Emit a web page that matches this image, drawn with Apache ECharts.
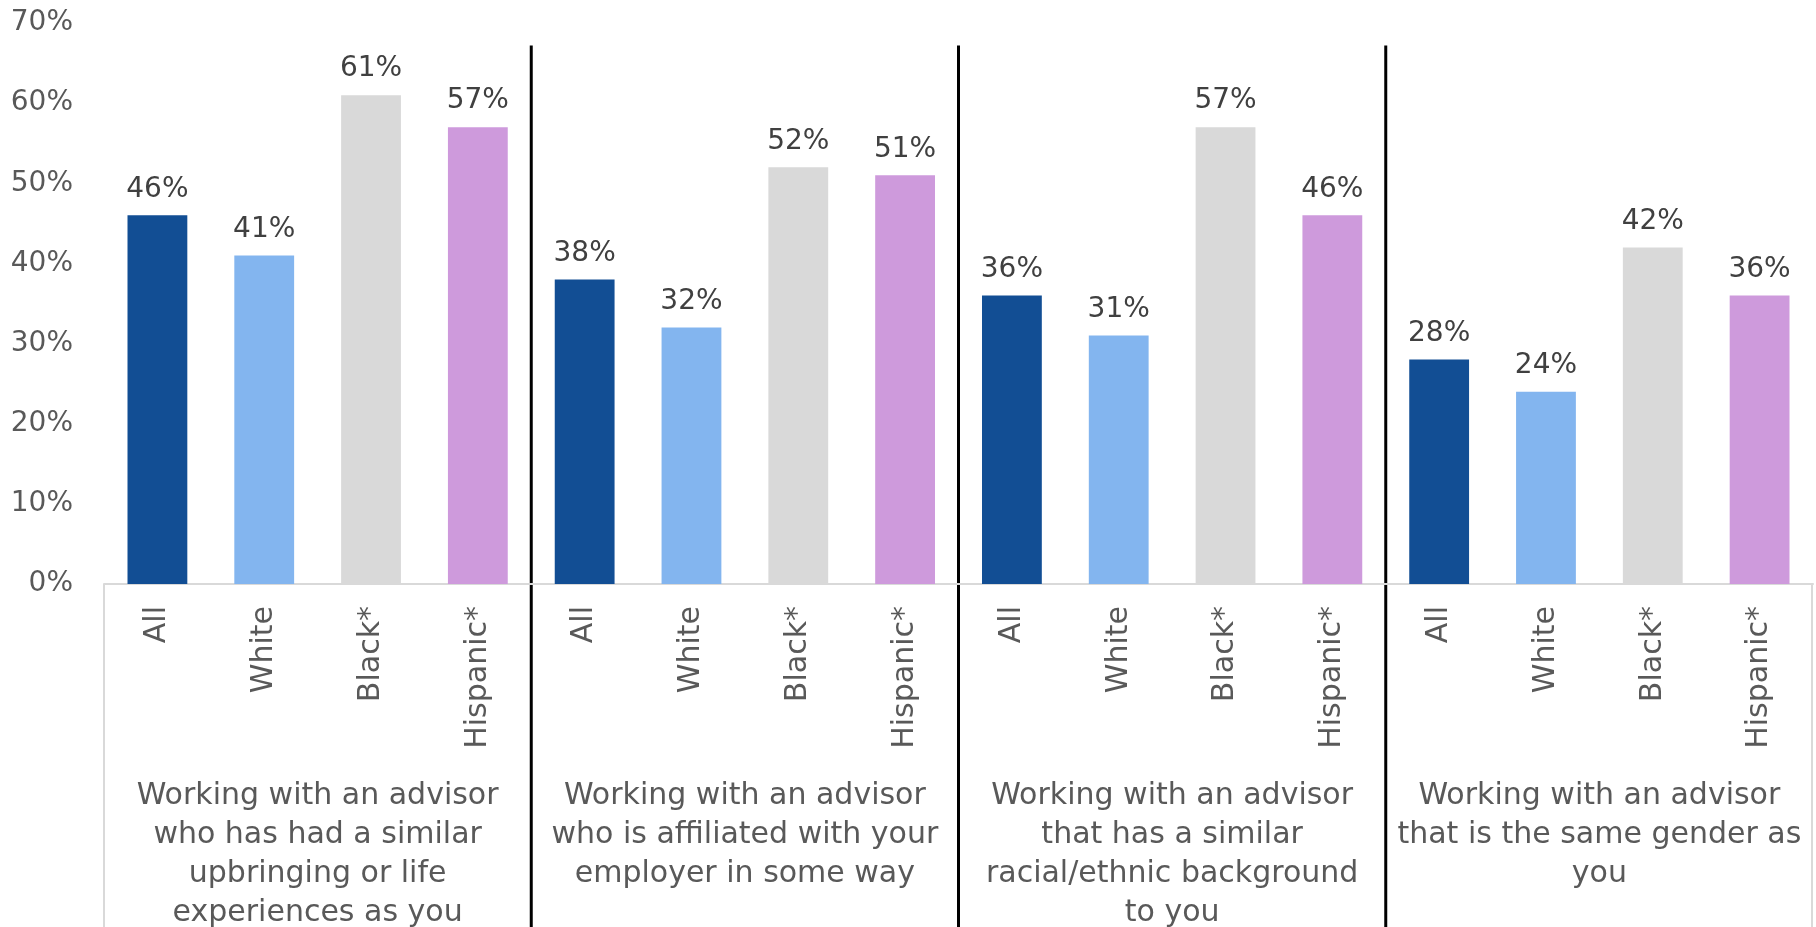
<!DOCTYPE html>
<html>
<head>
<meta charset="utf-8">
<script src="https://cdn.jsdelivr.net/npm/echarts@6/dist/echarts.min.js"></script>
<style>
  html, body { margin: 0; padding: 0; background: #ffffff; }
  #chart { width: 1816px; height: 927px; }
</style>
</head>
<body>
<div id="chart"></div>
<script>
// Respondent groups shown inside each advisor characteristic
const subgroups = ['All', 'White', 'Black*', 'Hispanic*'];

// Advisor characteristics (outer category level)
const characteristics = [
  'Working with an advisor\nwho has had a similar\nupbringing or life\nexperiences as you',
  'Working with an advisor\nwho is affiliated with your\nemployer in some way',
  'Working with an advisor\nthat has a similar\nracial/ethnic background\nto you',
  'Working with an advisor\nthat is the same gender as\nyou'
];

// Percent of each group, one value per characteristic
const allValues      = [46, 38, 36, 28];
const whiteValues    = [41, 32, 31, 24];
const blackValues    = [61, 52, 57, 42];
const hispanicValues = [57, 51, 46, 36];

const yTicks = { min: 0, max: 70, step: 10 };

const groupColors = ['#124e94', '#83b5ef', '#d9d9d9', '#ce9adc'];
const textColor = '#595959';
const fontFamily = "'DejaVu Sans', sans-serif";

// Flatten into one category axis: 4 subgroups per characteristic
const seriesByGroup = [allValues, whiteValues, blackValues, hispanicValues];
const innerCategories = [];
const barData = [];
characteristics.forEach((_, c) => {
  subgroups.forEach((g, s) => {
    innerCategories.push(g);
    barData.push({
      value: seriesByGroup[s][c],
      itemStyle: { color: groupColors[s] }
    });
  });
});

const chart = echarts.init(document.getElementById('chart'), null, { renderer: 'canvas' });

chart.setOption({
  animation: false,
  backgroundColor: '#ffffff',
  grid: {
    left: 104, right: 3, top: 23, bottom: 343,
    containLabel: false,
    outerBoundsMode: 'none'
  },
  xAxis: [
    {
      type: 'category',
      data: innerCategories,
      position: 'bottom',
      axisLine: { show: true, lineStyle: { color: '#d9d9d9', width: 2 } },
      axisTick: { show: false },
      axisLabel: {
        rotate: 90,
        margin: 22,
        interval: 0,
        color: textColor,
        fontFamily: fontFamily,
        fontSize: 30
      }
    },
    {
      type: 'category',
      data: characteristics,
      position: 'bottom',
      offset: 180,
      axisLine: { show: false },
      axisTick: { show: false },
      axisLabel: {
        interval: 0,
        margin: 13,
        color: textColor,
        fontFamily: fontFamily,
        fontSize: 30,
        lineHeight: 39,
        align: 'center'
      }
    }
  ],
  yAxis: {
    type: 'value',
    min: yTicks.min,
    max: yTicks.max,
    interval: yTicks.step,
    axisLine: { show: false },
    axisTick: { show: false },
    splitLine: { show: false },
    axisLabel: {
      formatter: '{value}%',
      margin: 31,
      padding: [7, 0, 0, 0],
      color: textColor,
      fontFamily: fontFamily,
      fontSize: 28
    }
  },
  series: [
    {
      type: 'bar',
      xAxisIndex: 0,
      yAxisIndex: 0,
      data: barData,
      barWidth: '56%',
      label: {
        show: true,
        position: 'top',
        distance: 12,
        formatter: p => p.value + '%',
        color: '#404040',
        fontFamily: fontFamily,
        fontSize: 28
      }
    }
  ]
});

// Divider lines between characteristics and the outer frame of the label area
function drawFrame() {
  const h = chart.getHeight();
  const per = subgroups.length;
  const elements = [];
  const axisY = chart.convertToPixel({ yAxisIndex: 0 }, yTicks.min);
  const dividerTop = chart.convertToPixel({ yAxisIndex: 0 }, 67.2);
  const first = chart.convertToPixel({ xAxisIndex: 0 }, 0);
  const second = chart.convertToPixel({ xAxisIndex: 0 }, 1);
  const step = second - first;
  const leftEdge = first - step / 2;
  const rightEdge = first + step * (innerCategories.length - 0.5);

  elements.push({
    type: 'line',
    shape: { x1: leftEdge, y1: axisY, x2: leftEdge, y2: h },
    style: { stroke: '#d9d9d9', lineWidth: 2 }
  });
  elements.push({
    type: 'line',
    shape: { x1: rightEdge - 1, y1: axisY, x2: rightEdge - 1, y2: h },
    style: { stroke: '#d9d9d9', lineWidth: 2 }
  });
  for (let c = 1; c < characteristics.length; c++) {
    const x = first + step * (c * per - 0.5);
    elements.push({
      type: 'line',
      shape: { x1: x, y1: dividerTop, x2: x, y2: h },
      style: { stroke: '#000000', lineWidth: 3 }
    });
  }
  chart.setOption({ graphic: elements });
}
drawFrame();
</script>
</body>
</html>
